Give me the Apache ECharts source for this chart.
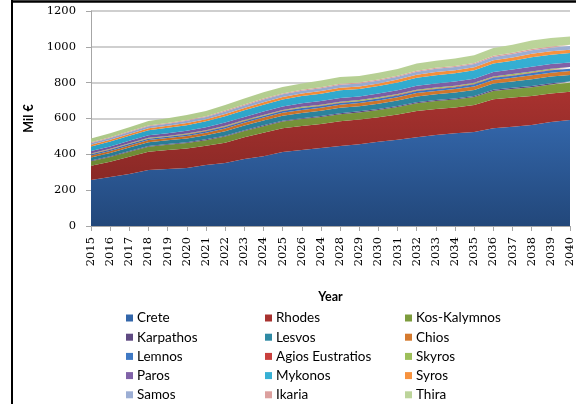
<!DOCTYPE html>
<html>
<head>
<meta charset="utf-8">
<script src="https://cdn.jsdelivr.net/npm/echarts@6/dist/echarts.min.js"></script>
<style>
  html, body { margin: 0; padding: 0; background: #ffffff; }
  #chart { width: 576px; height: 404px; }
</style>
</head>
<body>
<div id="chart"></div>
<script>
// Year labels along the horizontal axis (as printed)
const years = ['2015','2016','2017','2018','2019','2020','2021','2022','2023','2024','2025','2026','2024',
               '2028','2029','2030','2031','2032','2033','2034','2035','2036','2037','2038','2039','2040'];

// Value axis ticks
const yTicks = { min: 0, max: 1200, step: 200 };

// Island values, Mil €
const crete       = [257,273,290,312,318,324,340,352,374,390,413,424,435,446,456,470,482,495,508,517,524,545,554,564,580,591];
const rhodes      = [79,86,97,103,106,109,108,113,121,131,132,134,134,138,139,137,141,147,145,145,151,163,163,161,160,158];
const kosKalymnos = [25,26,27,28,29,30,31,34,35,36,38,39,39,40,39,40,41,43,44,44,45,46,47,50,50,50];
const karpathos   = [4,4,4,4,4,4,5,5,5,5,5,5,6,6,6,6,6,6,6,6,6,7,7,7,7,7];
const lesvos      = [18,19,20,21,21,22,23,25,26,27,28,29,29,30,29,30,30,32,32,33,33,34,35,37,37,37];
const chios       = [11,11,12,12,13,13,14,15,15,16,16,17,17,17,17,18,18,19,19,19,20,20,21,22,22,22];
const lemnos      = [6,7,7,7,7,8,8,9,9,9,10,10,10,10,10,10,11,11,11,11,12,12,12,13,13,13];
const agiosEustr  = [2,2,2,2,2,2,2,2,2,2,2,2,2,2,2,2,3,3,3,3,3,3,3,3,3,3];
const skyros      = [3,3,3,3,3,4,4,4,4,4,4,5,5,5,5,5,5,5,5,5,5,5,6,6,6,6];
const paros       = [13,13,14,14,15,16,16,18,18,19,19,20,20,21,20,21,21,22,23,23,23,24,25,26,26,26];
const mykonos     = [26,27,28,29,30,31,33,35,37,38,39,40,41,42,41,42,43,45,46,46,47,48,50,53,52,52];
const syros       = [9,10,10,11,11,12,12,13,13,14,14,15,15,15,15,15,16,16,17,17,17,18,18,19,19,19];
const samos       = [10,10,11,11,12,12,13,14,14,15,15,15,16,16,16,16,16,17,18,18,18,18,19,20,20,20];
const ikaria      = [4,4,4,4,4,4,4,5,5,5,5,5,6,6,6,6,6,6,6,6,6,7,7,7,7,7];
const thira       = [22,22,22,25,26,28,29,31,33,35,36,36,37,37,36,37,37,40,40,42,43,44,45,47,47,46];

const seriesDefs = [
  { name: 'Crete',            data: crete,       top: '#3366aa', bottom: '#22477a' },
  { name: 'Rhodes',           data: rhodes,      top: '#a8322f', bottom: '#8a2926' },
  { name: 'Kos-Kalymnos',     data: kosKalymnos, top: '#7d9c3d', bottom: '#6c8834' },
  { name: 'Karpathos',        data: karpathos,   top: '#5f4a82', bottom: '#523f72' },
  { name: 'Lesvos',           data: lesvos,      top: '#2f8aa4', bottom: '#287a92' },
  { name: 'Chios',            data: chios,       top: '#d57a2e', bottom: '#c06a24' },
  { name: 'Lemnos',           data: lemnos,      top: '#3f79c4', bottom: '#356bb0' },
  { name: 'Agios Eustratios', data: agiosEustr,  top: '#c9403d', bottom: '#b63532' },
  { name: 'Skyros',           data: skyros,      top: '#9dbf5a', bottom: '#8fb04e' },
  { name: 'Paros',            data: paros,       top: '#8062a8', bottom: '#71559a' },
  { name: 'Mykonos',          data: mykonos,     top: '#36b0d4', bottom: '#2aa0c4' },
  { name: 'Syros',            data: syros,       top: '#f7923e', bottom: '#ec8530' },
  { name: 'Samos',            data: samos,       top: '#9caed4', bottom: '#8ea2c9' },
  { name: 'Ikaria',           data: ikaria,      top: '#dca09e', bottom: '#cf8f8d' },
  { name: 'Thira',            data: thira,       top: '#bcd49a', bottom: '#adc888' }
];

const legendCols = [
  ['Crete', 'Karpathos', 'Lemnos', 'Paros', 'Samos'],
  ['Rhodes', 'Lesvos', 'Agios Eustratios', 'Mykonos', 'Ikaria'],
  ['Kos-Kalymnos', 'Chios', 'Skyros', 'Syros', 'Thira']
];
const legendLeft = [126, 265, 405];

const chart = echarts.init(document.getElementById('chart'), null, { renderer: 'canvas' });

const labelFont = { fontFamily: 'DejaVu Serif', fontSize: 11.5, color: '#000' };

chart.setOption({
  animation: false,
  backgroundColor: '#ffffff',
  grid: { left: 91, right: 1, top: 11, bottom: 178, containLabel: false },
  legend: legendCols.map((col, i) => ({
    orient: 'vertical',
    left: legendLeft[i],
    top: 311,
    height: 120,
    padding: 0,
    data: col,
    icon: 'rect',
    itemWidth: 7,
    itemHeight: 7,
    itemGap: 5.2,
    selectedMode: false,
    textStyle: { fontFamily: 'Lato', fontSize: 13.5, color: '#000', lineHeight: 14, padding: [0, 0, 0, -1] }
  })),
  xAxis: {
    type: 'category',
    data: years,
    boundaryGap: false,
    name: 'Year',
    nameLocation: 'middle',
    nameGap: 64,
    nameTextStyle: { fontFamily: 'Lato', fontWeight: 'bold', fontSize: 12.5, color: '#000' },
    axisLine: { lineStyle: { color: '#a6a6a6', width: 1 } },
    axisTick: { show: true, length: 5, interval: 0, lineStyle: { color: '#a6a6a6' } },
    axisLabel: Object.assign({ rotate: 90, interval: 0, margin: 11 }, labelFont),
    splitLine: { show: false }
  },
  yAxis: {
    type: 'value',
    min: yTicks.min,
    max: yTicks.max,
    interval: yTicks.step,
    name: 'Mil €',
    nameLocation: 'middle',
    nameGap: 56,
    nameRotate: 90,
    nameTextStyle: { fontFamily: 'Lato', fontWeight: 'bold', fontSize: 12.5, color: '#000' },
    axisLine: { show: true, lineStyle: { color: '#a6a6a6', width: 1 } },
    axisTick: { show: true, length: 5, lineStyle: { color: '#a6a6a6' } },
    axisLabel: Object.assign({ margin: 15, formatter: v => String(v) }, labelFont),
    splitLine: { show: true, lineStyle: { color: '#bfbfbf', width: 1.5 } }
  },
  series: seriesDefs.map(s => ({
    name: s.name,
    type: 'line',
    stack: 'islands',
    data: s.data,
    symbol: 'none',
    smooth: false,
    lineStyle: { width: 0 },
    itemStyle: { color: s.top },
    areaStyle: {
      opacity: 1,
      color: new echarts.graphic.LinearGradient(0, 0, 0, 1, [
        { offset: 0, color: s.top },
        { offset: 1, color: s.bottom }
      ])
    },
    emphasis: { disabled: true }
  })),
  graphic: [
    { type: 'line', shape: { x1: 12, y1: 1.5, x2: 576, y2: 1.5 }, style: { stroke: '#000', lineWidth: 2.5 }, z: 100 },
    { type: 'line', shape: { x1: 12, y1: 0, x2: 12, y2: 404 }, style: { stroke: '#000', lineWidth: 2 }, z: 100 }
  ]
});
</script>
</body>
</html>
